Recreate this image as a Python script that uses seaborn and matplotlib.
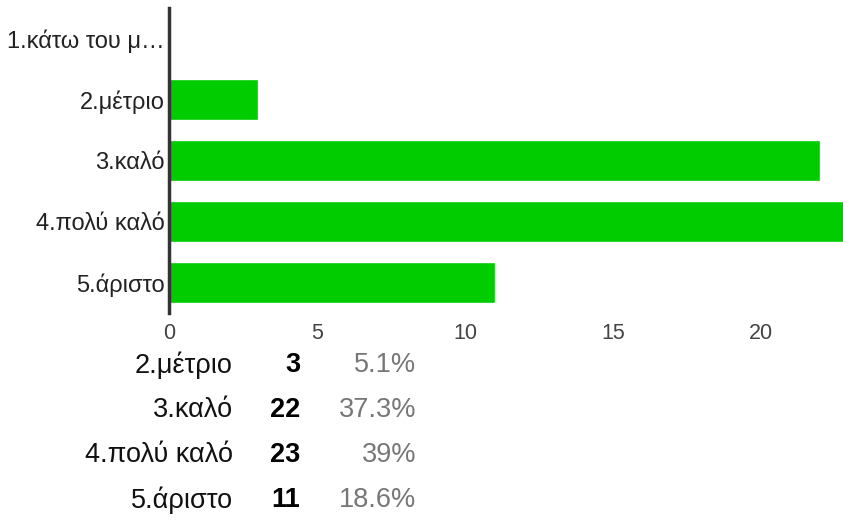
import matplotlib
matplotlib.use('Agg')
import matplotlib.pyplot as plt
import seaborn as sns
import pandas as pd

# data
categories = ['1.κάτω του μ…', '2.μέτριο', '3.καλό', '4.πολύ καλό', '5.άριστο']
counts = [0, 3, 22, 23, 11]
table_labels = ['2.μέτριο', '3.καλό', '4.πολύ καλό', '5.άριστο']
table_counts = [3, 22, 23, 11]
table_pcts = ['5.1%', '37.3%', '39%', '18.6%']
xticks = [0, 5, 10, 15, 20]

sns.set_style('white')
plt.rcParams['font.family'] = ['Liberation Sans', 'DejaVu Sans']

df = pd.DataFrame({'cat': categories, 'n': counts})

fig = plt.figure(figsize=(8.43, 5.25), dpi=100)
ax = fig.add_axes([169 / 843, 1 - 313 / 525, 1 - 169 / 843, 305 / 525])

sns.barplot(data=df, x='n', y='cat', orient='h', color='#00cc00',
            saturation=1, width=0.67, ax=ax)

ax.set_xlim(0, 22.77)
ax.set_xticks(xticks)
ax.set_xlabel('')
ax.set_ylabel('')
ax.tick_params(axis='x', labelsize=15.5, colors='#444444', length=0, pad=7)
ax.tick_params(axis='y', labelsize=17, colors='#222222', length=0, pad=3)
for s in ['top', 'right', 'bottom']:
    ax.spines[s].set_visible(False)
ax.spines['left'].set_color('#333333')
ax.spines['left'].set_linewidth(2.5)

# summary table under the chart
for i, (lab, n, p) in enumerate(zip(table_labels, table_counts, table_pcts)):
    y = 1 - (365 + 45 * i) / 525
    fig.text(233 / 843, y, lab, ha='right', va='center', fontsize=19.5, color='#111111')
    fig.text(300 / 843, y, str(n), ha='right', va='center', fontsize=19.5,
             fontweight='bold', color='#000000')
    fig.text(416 / 843, y, p, ha='right', va='center', fontsize=19.5, color='#777777')

fig.savefig('out.png', dpi=100)
